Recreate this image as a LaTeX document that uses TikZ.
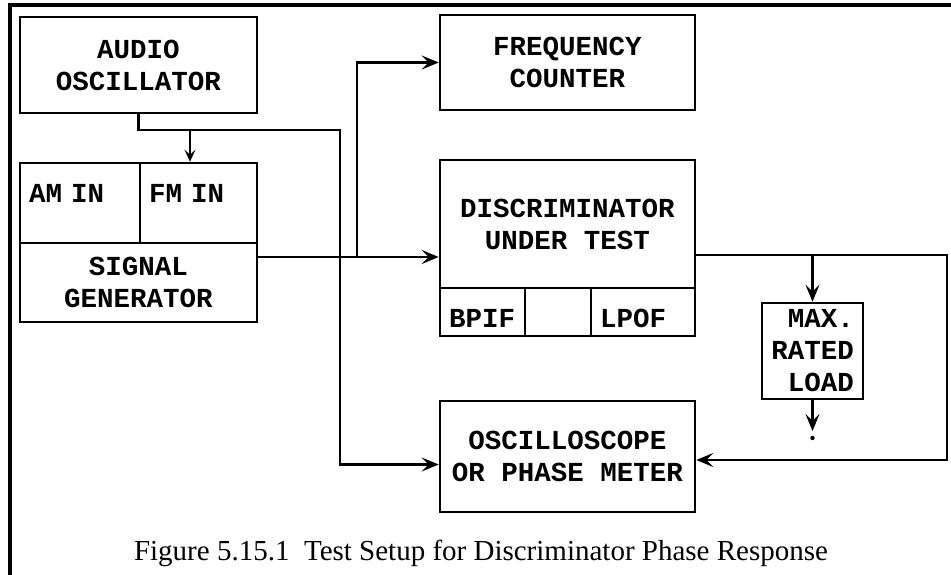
\documentclass[tikz,border=0pt]{standalone}
\usepackage{fontspec}
\setmainfont{Liberation Serif}
\newfontfamily\plotfont{Liberation Mono}
\usetikzlibrary{arrows.meta,positioning,calc}

\tikzset{
  blk/.style={draw,line width=2.6pt,inner sep=0pt,align=center,
    font={\plotfont\bfseries\fontsize{27.5}{32}\selectfont}},
  cell/.style={blk,align=left,inner xsep=9pt},
  wire/.style={line width=2.6pt},
  sig/.style={wire,-{Stealth[length=17pt,width=14pt,inset=7pt]}},
}

\begin{document}
\begin{tikzpicture}[x=1pt,y=-1pt]
  \useasboundingbox (0,0) rectangle (951,575); % 図全体の範囲
  \draw[line width=3.5pt] (951,5) -- (10,5) -- (10,575); % 上と左の枠線
  \node[blk,minimum width=237pt,minimum height=96pt] (audio) at (138.5,65) {AUDIO\\OSCILLATOR}; % 低周波発振器
  \node[cell,text width=102pt,minimum height=80pt,text height=10pt,text depth=10pt] (amin) at (80,203) {AM IN}; % AM入力端子
  \node[cell,text width=99pt,minimum height=80pt,text height=10pt,text depth=10pt] (fmin) at (198.5,203) {FM IN}; % FM入力端子
  \node[blk,minimum width=237pt,minimum height=79pt] (siggen) at (138.5,282.5) {SIGNAL\\GENERATOR}; % 信号発生器
  \node[blk,minimum width=255pt,minimum height=95pt] (freq) at (567.5,62.5) {FREQUENCY\\COUNTER}; % 周波数カウンタ
  \node[blk,minimum width=255pt,minimum height=128pt] (disc) at (567.5,224) {DISCRIMINATOR\\UNDER TEST}; % 被試験弁別器
  \node[cell,text width=67pt,minimum height=48pt,text height=30pt,text depth=0pt] (bpif) at (482.5,312) {BPIF}; % 弁別器の入力側
  \node[cell,text width=48pt,minimum height=48pt] (mid) at (558,312) {}; % 中央の空き枠
  \node[cell,text width=86pt,minimum height=48pt,text height=30pt,text depth=0pt] (lpof) at (643,312) {LPOF}; % 弁別器の出力側
  \node[blk,minimum width=255pt,minimum height=111pt] (osc) at (567.5,456.5) {OSCILLOSCOPE\\OR PHASE METER}; % 位相計
  \node[blk,minimum width=101pt,minimum height=96pt,align=right] (load) at (812.5,351) {MAX.\\RATED\\LOAD}; % 定格負荷
  \coordinate (tapA) at (190,130); % 発振器出力の分岐点
  \coordinate (bendA) at (340,130); % 発振器出力の曲がり角
  \draw[sig] (audio.south) |- (bendA) |- ([yshift=-8pt]osc.west); % 発振器から位相計へ
  \draw[wire,-{Stealth[length=12pt,width=11pt,inset=5pt]}] (tapA) -- (tapA |- fmin.north); % 発振器からFM入力へ
  \coordinate (tapB) at (357,257); % 信号発生器出力の分岐点
  \draw[sig] (siggen.east |- tapB) -- (disc.west |- tapB); % 信号発生器から弁別器へ
  \draw[sig] (tapB) |- (freq.west); % 分岐して周波数カウンタへ
  \coordinate (tapC) at (812.5,255); % 弁別器出力の分岐点
  \coordinate (bendC) at (947,255); % 右端の曲がり角
  \draw[sig] (disc.east |- tapC) -- (bendC) |- ([yshift=-3.5pt]osc.east); % 弁別器出力から位相計へ
  \draw[sig] (tapC) -- (load.north); % 弁別器出力から負荷へ
  \coordinate (gnd) at (812.5,431); % 負荷の下端
  \draw[sig] (load.south) -- (gnd); % 負荷から接地へ
  \fill (812.5,438) circle (2.2pt); % 接地点
  \node[anchor=base,font=\fontsize{29}{34}\selectfont] (caption) at (481,560) {Figure 5.15.1\ \ Test Setup for Discriminator Phase Response}; % 図の題
\end{tikzpicture}
\end{document}
